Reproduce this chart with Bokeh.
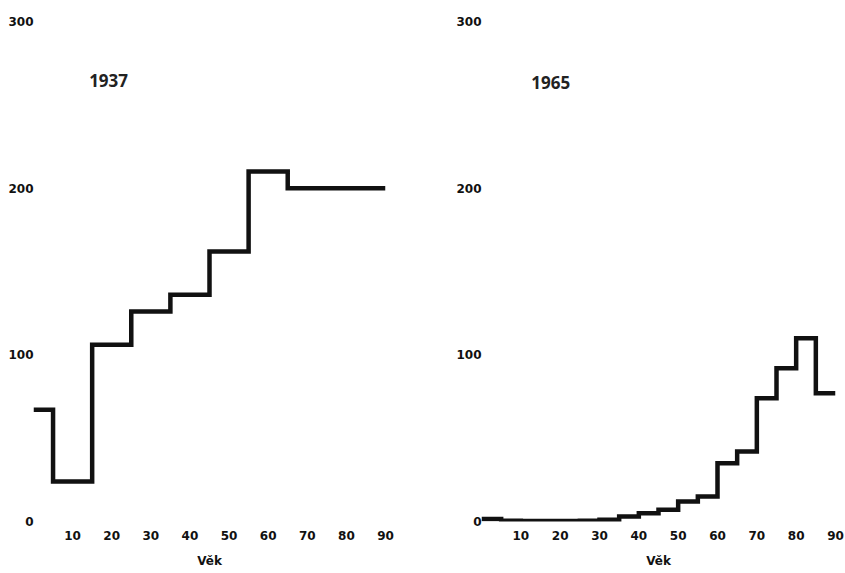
from bokeh.plotting import figure
from bokeh.layouts import row
from bokeh.models import FixedTicker, Label, Range1d
from bokeh.embed import file_html
from bokeh.resources import INLINE

# 1937: age-group start edges and values
age_edges_1937 = [0, 5, 15, 25, 35, 45, 55, 65, 90]
values_1937 = [67, 24, 106, 126, 136, 162, 210, 200, 200]

# 1965: five-year age groups
age_edges_1965 = [0, 5, 10, 15, 20, 25, 30, 35, 40, 45, 50, 55, 60, 65, 70, 75, 80, 85, 90]
values_1965 = [1.5, 0.5, 0.3, 0.3, 0.3, 0.4, 1, 3, 5, 7, 12, 15, 35, 42, 74, 92, 110, 77, 77]

x_ticks = [10, 20, 30, 40, 50, 60, 70, 80, 90]
y_ticks = [0, 100, 200, 300]
x_title = "Věk"
years = ["1937", "1965"]

TICK_FONT = "DejaVu Sans"


def make_fig(edges, vals, year, width, border_left, border_right, year_x, year_y):
    p = figure(width=width, height=573, output_backend="svg", toolbar_location=None,
               x_range=Range1d(0, 90), y_range=Range1d(0, 300),
               min_border_left=border_left, min_border_right=border_right,
               min_border_top=21, min_border_bottom=52)
    p.step(edges, vals, mode="after", line_color="#111111", line_width=4.5,
           line_join="miter", line_cap="butt")
    p.xgrid.visible = False
    p.ygrid.visible = False
    p.outline_line_color = None
    p.background_fill_color = "white"
    p.border_fill_color = "white"
    for ax in (p.xaxis[0], p.yaxis[0]):
        ax.axis_line_color = None
        ax.major_tick_line_color = None
        ax.minor_tick_line_color = None
        ax.major_tick_out = 0
        ax.major_tick_in = 0
        ax.minor_tick_out = 0
        ax.minor_tick_in = 0
        ax.major_label_text_font = TICK_FONT
        ax.major_label_text_font_style = "bold"
        ax.major_label_text_font_size = "12px"
        ax.major_label_text_color = "#111111"
    p.xaxis[0].ticker = FixedTicker(ticks=x_ticks)
    p.yaxis[0].ticker = FixedTicker(ticks=y_ticks)
    p.xaxis[0].major_label_standoff = 9
    p.yaxis[0].major_label_standoff = 0
    p.xaxis[0].axis_label = x_title
    p.xaxis[0].axis_label_text_font = TICK_FONT
    p.xaxis[0].axis_label_text_font_style = "bold"
    p.xaxis[0].axis_label_text_font_size = "12px"
    p.xaxis[0].axis_label_text_color = "#111111"
    p.xaxis[0].axis_label_standoff = 11
    p.add_layout(Label(x=year_x, y=year_y, text=year, text_font="Open Sans",
                       text_font_size="17px", text_font_style="bold", text_color="#222222",
                       text_align="center", text_baseline="middle"))
    return p


p1 = make_fig(age_edges_1937, values_1937, years[0], 425, 33, 40, 19.2, 264.5)
p2 = make_fig(age_edges_1965, values_1965, years[1], 420, 56, 10, 17.6, 263.5)

layout = row(p1, p2, spacing=0)
open("out.html", "w").write(file_html(layout, INLINE))
